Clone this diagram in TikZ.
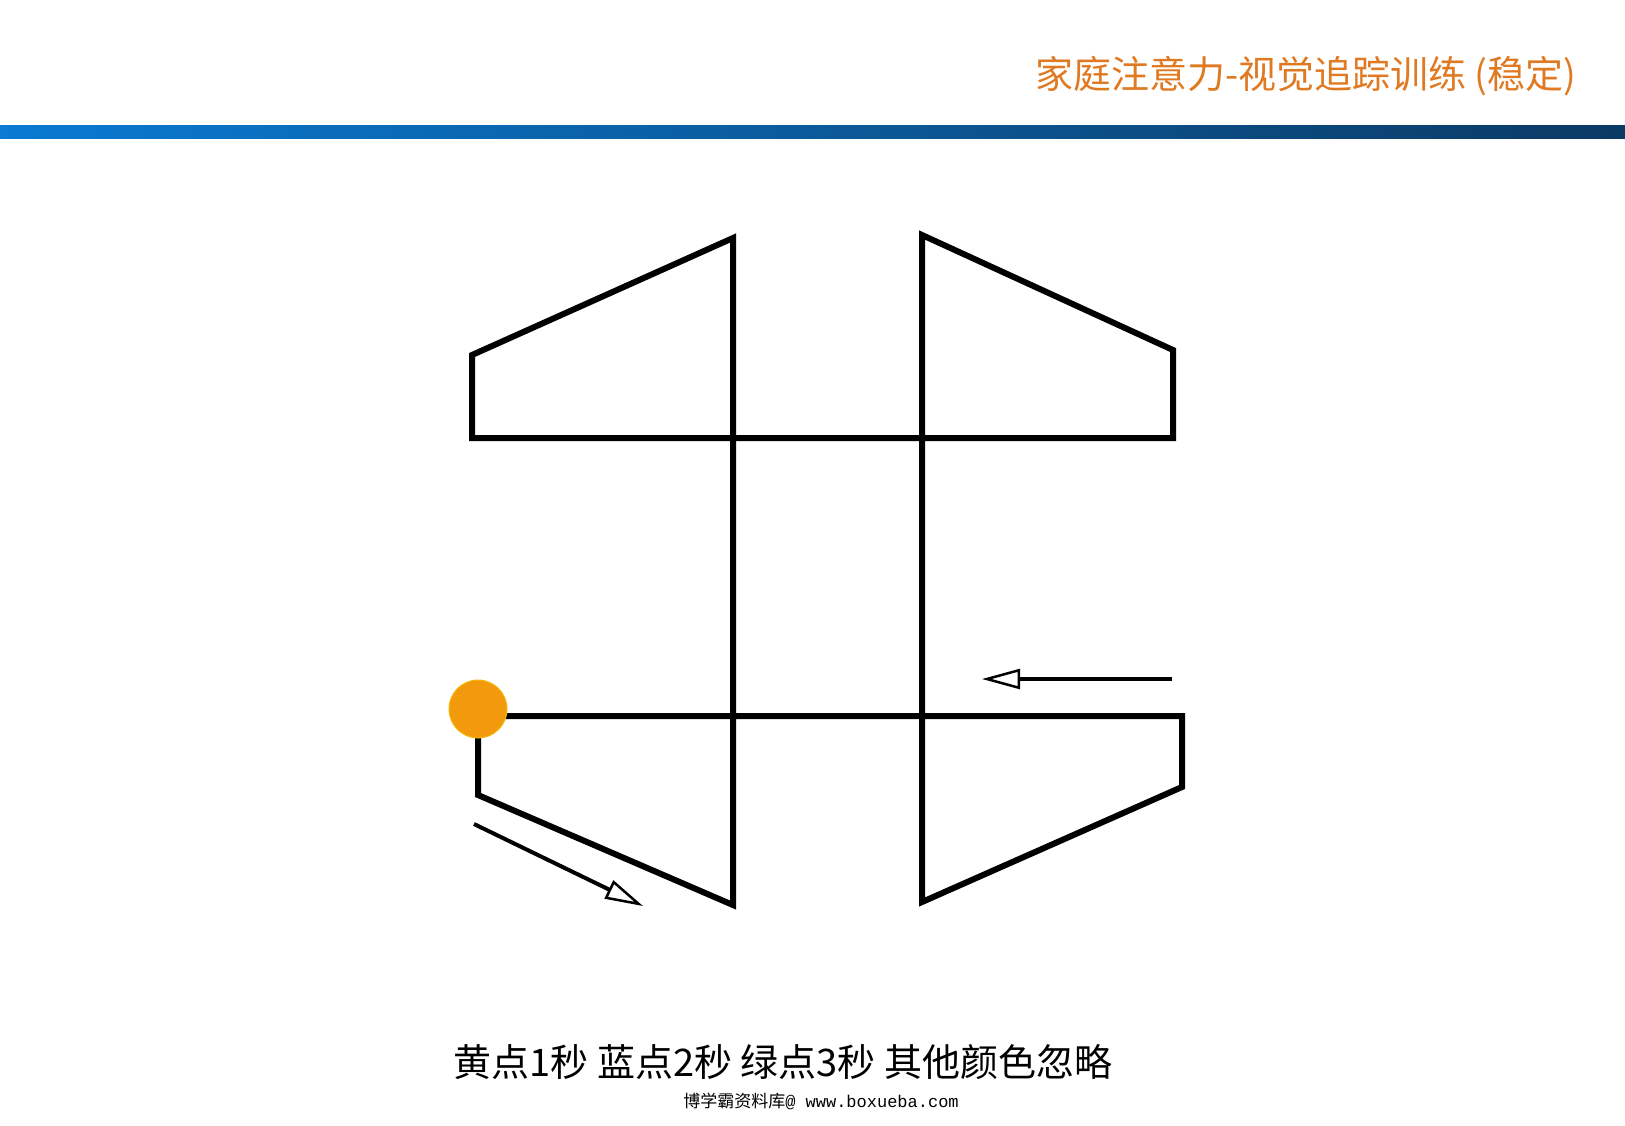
\documentclass[tikz,border=0pt]{standalone}
\usepackage{fontspec}
\setmainfont{Noto Sans CJK SC}
\newfontfamily\wmono{Liberation Mono}
\usepackage{tikz}
\usetikzlibrary{arrows.meta}

\definecolor{titleorange}{HTML}{E07A22}
\definecolor{dotorange}{HTML}{F29A0C}
\definecolor{barleft}{HTML}{0A7AD2}
\definecolor{barright}{HTML}{0B3A64}

\tikzset{
  track/.style={line width=6pt, line join=miter, black},
  hint/.style={line width=4pt, -{Triangle[open, length=38pt, width=20pt, line width=2.5pt]}},
  dot/.style={circle, fill=dotorange, draw=dotorange!70!yellow, line width=1pt, minimum size=58pt, inner sep=0pt}
}

\begin{document}
\begin{tikzpicture}[x=1pt, y=-1pt]
\useasboundingbox (0,0) rectangle (1625,1125);

% header
\node[anchor=east, text=titleorange, font=\fontsize{38}{40}\selectfont] (title) at (1580,76) {家庭注意力-视觉追踪训练 (稳定)};
\shade[left color=barleft, right color=barright] (0,125) rectangle (1625,138);

% corners of the track
\coordinate (S) at (478,709);
\coordinate (A) at (472,438);
\coordinate (B) at (472,355);
\coordinate (C) at (733,238);
\coordinate (D) at (733,905);
\coordinate (E) at (477,795);
\coordinate (F) at (1173,438);
\coordinate (G) at (1173,350);
\coordinate (H) at (922,235);
\coordinate (I) at (922,902);
\coordinate (J) at (1182,787);
\coordinate (K) at (1182,716);
\coordinate (L) at (500,716);

\draw[track] (S) -- (S |- E) -- (D) -- (C) -- (B) -- (A) -- (F) -- (G) -- (H) -- (I) -- (J) -- (K) -- (L);
\node[dot] (start) at (S) {};

% direction hints
\coordinate (P1) at (474,824);
\coordinate (P2) at (643,906);
\coordinate (Q1) at (1172,679);
\coordinate (Q2) at (982,679);
\draw[hint] (P1) -- (P2);
\draw[hint] (Q1) -- (Q2);

% footer
\node[font=\fontsize{38}{42}\selectfont] (rule) at (783,1062) {黄点1秒 蓝点2秒 绿点3秒 其他颜色忽略};
\node[font=\fontsize{17}{19}\selectfont] (mark) at (821,1101) {博学霸资料库{\wmono @ www.boxueba.com}};
\end{tikzpicture}
\end{document}
